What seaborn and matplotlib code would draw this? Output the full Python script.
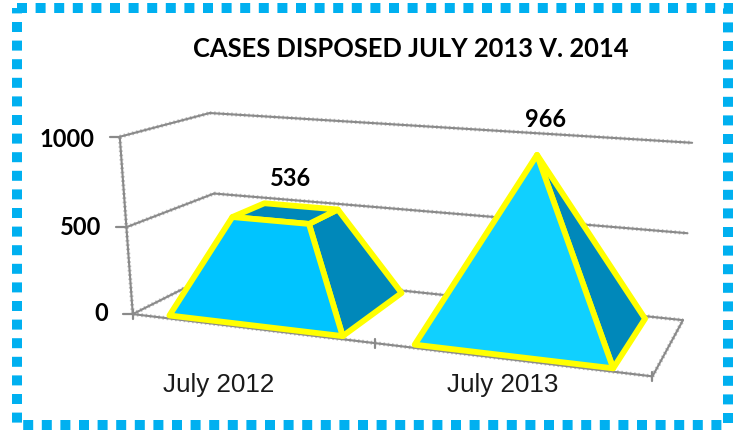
import numpy as np
import pandas as pd
import matplotlib
matplotlib.use("Agg")
import matplotlib.pyplot as plt
from matplotlib.patches import Rectangle
import seaborn as sns

title = "CASES DISPOSED JULY 2013 V. 2014"
categories = ["July 2012", "July 2013"]
values = [536, 966]
value_ticks = [0, 500, 1000]
value_max = 1000

GRID = "#8a8a8a"
FRONT = ["#00c4ff", "#10d0ff"]
SIDE = "#0088ba"
EDGE = "#ffff00"
BORDER = "#00b0f0"

# camera fit: (category pos, depth, value) -> picture pixel
# the apex point is listed more than once so the fit holds it harder
calib_in = [(0, 0, 0), (1, 0, 0), (2, 0, 0), (2, 1, 0), (0, 1, 0), (0, 0, 500),
            (0, 0, 1000), (0, 1, 500), (0, 1, 1000), (2, 1, 500), (2, 1, 1000),
            (0.5, 0.5, 536)] + [(1.5, 0.5, 966)] * 4
calib_px = [(132, 312), (372, 343), (655, 377), (682, 318), (220, 278), (127, 225),
            (121, 135), (215, 191), (208, 112), (687, 230), (693, 139),
            (285, 212)] + [(537, 158)] * 4


def fit_camera(pts, px):
    rows = []
    for (x, z, v), (u, w) in zip(pts, px):
        p = [x, z, v / value_max, 1]
        rows.append(p + [0, 0, 0, 0] + [-u * c for c in p])
        rows.append([0, 0, 0, 0] + p + [-w * c for c in p])
    return np.linalg.svd(np.array(rows, dtype=float))[2][-1].reshape(3, 4)


camera = fit_camera(calib_in, calib_px)


def project(x, z, v):
    h = camera @ np.array([x, z, v / value_max, 1.0])
    return h[0] / h[2], h[1] / h[2]


def wall_lines():
    # gridlines on the left and back walls plus the floor outline
    rows = []
    segs = [((0, 0, v), (0, 1, v)) for v in value_ticks]
    segs += [((0, 1, v), (2, 1, v)) for v in value_ticks]
    segs += [((0, 0, 0), (0, 0, value_max)), ((0, 0, 0), (2, 0, 0)), ((2, 0, 0), (2, 1, 0))]
    for i, (a, b) in enumerate(segs):
        for p in (a, b):
            u, w = project(*p)
            rows.append({"seg": i, "u": u, "w": w})
    return pd.DataFrame(rows)


def draw_pyramid(ax, pos, value, front_color, half=0.36, z0=0.05, z1=0.95):
    # frustum of a pyramid whose full height is the largest value
    cx, cz = pos + 0.5, (z0 + z1) / 2
    scale = 1 - value / max(values)

    def corner(sx, sz, level):
        k = scale if level else 1
        return project(cx + sx * half * k, cz + sz * (z1 - z0) / 2 * k, value if level else 0)

    style = dict(edgecolor=EDGE, linewidth=4.2, joinstyle="round")
    side = [corner(1, -1, 0), corner(1, 1, 0), corner(1, 1, 1), corner(1, -1, 1)]
    top = [corner(-1, -1, 1), corner(1, -1, 1), corner(1, 1, 1), corner(-1, 1, 1)]
    front = [corner(-1, -1, 0), corner(1, -1, 0), corner(1, -1, 1), corner(-1, -1, 1)]
    ax.fill(*zip(*side), facecolor=SIDE, zorder=3, **style)
    ax.fill(*zip(*top), facecolor=SIDE, zorder=3, **style)
    ax.fill(*zip(*front), facecolor=front_color, zorder=4, **style)


sns.set_theme(style="white")
plt.rcParams["font.family"] = ["Lato", "DejaVu Sans"]

fig = plt.figure(figsize=(7.4, 4.3), dpi=100)
ax = fig.add_axes([0, 0, 1, 1])
ax.set_xlim(0, 740)
ax.set_ylim(430, 0)
ax.axis("off")

lines = wall_lines()
sns.lineplot(data=lines, x="u", y="w", units="seg", estimator=None, sort=False,
             color=GRID, linewidth=1.5, legend=False, ax=ax, zorder=1)
# fuzzy hatch along the lines, the original is a rough scaled image
sns.lineplot(data=lines, x="u", y="w", units="seg", estimator=None, sort=False,
             color=GRID, linewidth=2.8, alpha=0.55, linestyle=(0, (0.4, 0.7)),
             legend=False, ax=ax, zorder=1)

# tick marks
tick_nudge = [-1, 0, 3]
for k, v in enumerate(value_ticks):
    u, w = project(0, 0, v)
    ax.plot([u - 10, u], [w, w], color=GRID, lw=1.6, zorder=1)
    ax.text(u - 25, w + tick_nudge[k], str(v), ha="right", va="center", fontsize=17,
            fontweight="bold", color="black")
for x in range(len(categories) + 1):
    u, w = project(x, 0, 0)
    ax.plot([u, u], [w - 4, w + 5], color=GRID, lw=1.6, zorder=1)

for i, (cat, val) in enumerate(zip(categories, values)):
    draw_pyramid(ax, i, val, FRONT[i])
    u, w = project(i + 0.5, 0.5, val)
    ax.text(u + (8 if i else 5), w - 35, str(val), ha="center", va="center",
            fontsize=17, fontweight="bold", color="black")
    u, w = project(i + 0.5, 0, 0)
    ax.text(u + (-6 if i else -31), 385, cat, ha="center", va="center", fontsize=18.7,
            family=["Liberation Sans"], color="#1a1a1a")

ax.text(411, 49, title, ha="center", va="center", fontsize=18.4, fontweight="bold", color="black")

ax.add_patch(Rectangle((17, 7.5), 711, 417.5, fill=False, edgecolor=BORDER, linewidth=7.2,
                       linestyle=(0, (1, 0.86)), capstyle="butt", zorder=6))

fig.savefig("out.png", dpi=100)
